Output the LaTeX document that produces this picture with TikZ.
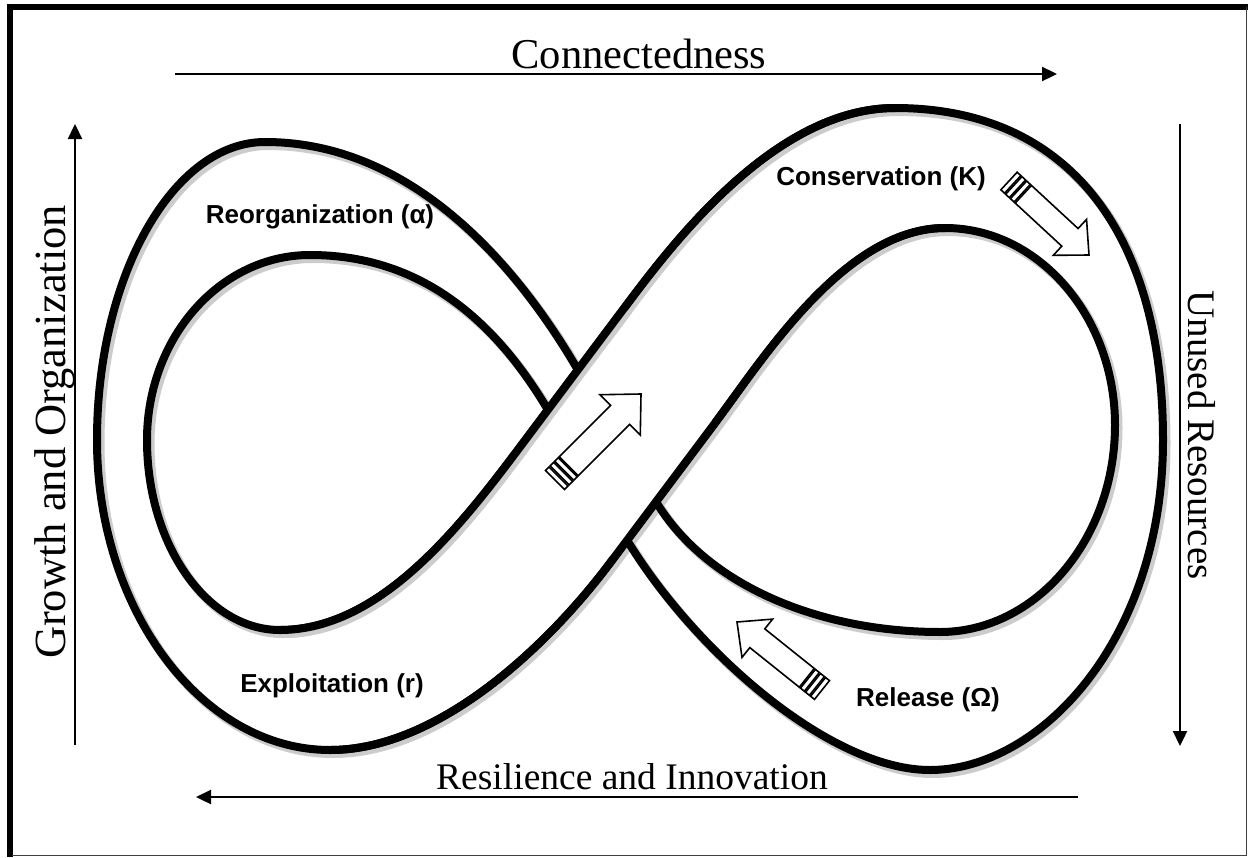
\documentclass[tikz,border=0pt]{standalone}
\usepackage{fontspec}
\setmainfont{Liberation Serif}
\newfontfamily\phasefont{Liberation Sans}
\usetikzlibrary{arrows.meta,calc}

\newcommand{\TailBand}[5]{%
  \coordinate (tb0) at ($(#1)!#3!(#2)$);
  \coordinate (tb1) at ($(#1)!#4!(#2)$);
  \draw[hollow] ($(tb0)!#5!90:(#2)$) -- ($(tb1)!#5!90:(#2)$) -- ($(tb1)!#5!-90:(#2)$) -- ($(tb0)!#5!-90:(#2)$) -- cycle;}

\newcommand{\HollowArrow}[6]{%
  \coordinate (ha) at ($(#1)!#6!(#2)$);
  \coordinate (hb) at ($(#2)!#5!(#1)$);
  \draw[hollow] ($(ha)!#3!90:(#2)$) -- ($(hb)!#3!90:(#2)$) -- ($(hb)!#4!90:(#2)$) -- (#2) -- ($(hb)!#4!-90:(#2)$) -- ($(hb)!#3!-90:(#2)$) -- ($(ha)!#3!-90:(#2)$) -- cycle;
  \TailBand{#1}{#2}{0pt}{5pt}{#3}
  \TailBand{#1}{#2}{6.5pt}{11.5pt}{#3}
  \TailBand{#1}{#2}{13pt}{18pt}{#3}}

\begin{document}
\begin{tikzpicture}[x=1pt,y=-1pt,
  band/.style={line width=8pt, line join=round},
  bandshadow/.style={line width=9pt, black!20, line join=round},
  axisarrow/.style={line width=2.3pt, -{Triangle[length=15pt,width=14pt]}},
  axistext/.style={inner sep=0pt},
  phase/.style={font=\phasefont\bfseries\fontsize{26}{30}\selectfont, inner sep=0pt},
  hollow/.style={draw=black, fill=white, line width=1.6pt, line join=miter},
  loopP/.style={insert path={(610,563) -- (715,423)
     .. controls (763,359) and (845,228) .. (945,228)
     .. controls (1039,228) and (1115,317) .. (1115,425)
     .. controls (1115,539) and (1036,632) .. (940,632)
     .. controls (820,632) and (706,586) .. (655,500)
     -- (575,365)
     .. controls (508.7,253.2) and (405,142) .. (265,142)
     .. controls (173,142) and (97,276) .. (97,440)
     .. controls (97,610) and (202,750) .. (330,750)
     .. controls (440,750) and (550,643) .. (610,563) -- cycle}},
  loopQ/.style={insert path={(520,447) -- (625,307)
     .. controls (673,243) and (775,108) .. (895,108)
     .. controls (1070,108) and (1163,235) .. (1163,440)
     .. controls (1163,640) and (1040,770) .. (930,770)
     .. controls (830,770) and (694.5,651) .. (627,540)
     -- (545,405)
     .. controls (493,319.5) and (420,255) .. (310,255)
     .. controls (220,255) and (147,338) .. (147,440)
     .. controls (147,545) and (207,630) .. (280,630)
     .. controls (380,630) and (460,527) .. (520,447) -- cycle}},
  overQshadow/.style={insert path={(280,630) .. controls (380,630) and (460,527) .. (520,447) -- (625,307)}},
  overQ/.style={insert path={(280,630) .. controls (380,630) and (460,527) .. (520,447) -- (625,307)
     .. controls (673,243) and (775,108) .. (895,108)}},
  overP/.style={insert path={(330,750) .. controls (440,750) and (550,643) .. (610,563) -- (715,423)
     .. controls (763,359) and (845,228) .. (945,228)}},
]
\useasboundingbox (0,0) rectangle (1248,857);
\fill[white] (0,0) rectangle (1248,857);

% frame
\draw[line width=6pt, line join=miter] (9.8,857) -- (9.8,7) -- (1248,7);
\draw[line width=1.5pt, black!75] (1246.5,7) -- (1246.5,855.5) -- (12,855.5);

% shadows of the ribbon
\begin{scope}[shift={(3,3.5)}]
  \draw[bandshadow, loopP];
  \draw[bandshadow, loopQ];
\end{scope}
% ribbon edges
\draw[band, loopP];
\draw[band, loopQ];
% over-crossing part of the ribbon
\fill[white] (523,443) -- (601.6,338.2) -- (715,423) -- (613,559) -- cycle;
\draw[bandshadow, shift={(3,3.5)}, overQshadow];
\draw[band, overQ];
\draw[band, overP];

% direction arrows
\coordinate (a1t) at (555,480);
\coordinate (a1h) at (641,394);
\HollowArrow{a1t}{a1h}{13.5pt}{28.5pt}{29.5pt}{19.5pt}
\coordinate (a2t) at (1009,181);
\coordinate (a2h) at (1089,255);
\HollowArrow{a2t}{a2h}{12pt}{24.5pt}{26pt}{19.5pt}
\coordinate (a3t) at (822,690);
\coordinate (a3h) at (737,622);
\HollowArrow{a3t}{a3h}{12pt}{24.5pt}{26pt}{19.5pt}

% phase labels
\node[phase, anchor=base] (reorg) at (320,223) {Reorganization (α)};
\node[phase, anchor=base] (cons) at (881,185) {Conservation (K)};
\node[phase, anchor=base] (expl) at (332,692) {Exploitation (r)};
\node[phase, anchor=base] (rel) at (928,706) {Release (Ω)};

% axes
\coordinate (topL) at (175,74);
\coordinate (topR) at (1057,74);
\draw[axisarrow] (topL) -- (topR);
\coordinate (botR) at (1078,797);
\coordinate (botL) at (196,797);
\draw[axisarrow] (botR) -- (botL);
\coordinate (lftB) at (75,745);
\coordinate (lftT) at (75,124);
\draw[axisarrow] (lftB) -- (lftT);
\coordinate (rgtT) at (1180,124);
\coordinate (rgtB) at (1180,746);
\draw[axisarrow] (rgtT) -- (rgtB);

\node[axistext, font=\fontsize{42.5}{50}\selectfont, anchor=base] (conn) at (639,68) {Connectedness};
\node[axistext, font=\fontsize{37.5}{45}\selectfont, anchor=base] (resil) at (632,789) {Resilience and Innovation};
\node[axistext, font=\fontsize{44.5}{52}\selectfont, anchor=base, rotate=90] (growth) at (65,432) {Growth and Organization};
\node[axistext, font=\fontsize{39}{46}\selectfont, anchor=base, rotate=-90] (unused) at (1188,435) {Unused Resources};
\end{tikzpicture}
\end{document}
